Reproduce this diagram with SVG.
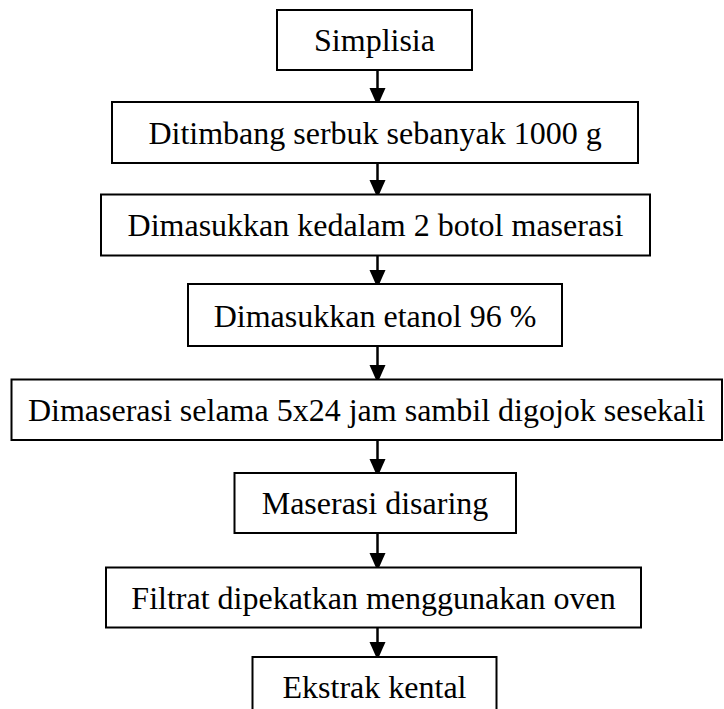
<svg xmlns="http://www.w3.org/2000/svg" width="724" height="709" viewBox="0 0 724 709">
<defs>
<style>
.box{fill:#fff;stroke:#000;stroke-width:2}
.lbl{font-family:"Liberation Serif","Times New Roman",serif;font-size:32px;fill:#000;text-anchor:middle}
.edge{stroke:#000;stroke-width:2.5;fill:none}
</style>
<marker id="ah" markerUnits="userSpaceOnUse" markerWidth="16" markerHeight="18" refX="8" refY="18" orient="auto-start-reverse" viewBox="0 0 16 18">
<path d="M0,0 L16,0 L8,18 Z" fill="#000" transform="rotate(0)"/>
</marker>
</defs>
<rect width="724" height="709" fill="#fff"/>
<g id="connectors">
<line class="edge" x1="377.5" y1="71" x2="377.5" y2="106"/>
<line class="edge" x1="377.5" y1="164" x2="377.5" y2="198"/>
<line class="edge" x1="377.5" y1="256" x2="377.5" y2="288"/>
<line class="edge" x1="377.5" y1="347" x2="377.5" y2="383"/>
<line class="edge" x1="377.5" y1="441" x2="377.5" y2="477"/>
<line class="edge" x1="377.5" y1="534" x2="377.5" y2="571"/>
<line class="edge" x1="377.5" y1="628" x2="377.5" y2="660"/>
<polygon points="369.5,88 385.5,88 377.5,106"/>
<polygon points="369.5,180 385.5,180 377.5,198"/>
<polygon points="369.5,270 385.5,270 377.5,288"/>
<polygon points="369.5,365 385.5,365 377.5,383"/>
<polygon points="369.5,459 385.5,459 377.5,477"/>
<polygon points="369.5,553 385.5,553 377.5,571"/>
<polygon points="369.5,642 385.5,642 377.5,660"/>
</g>
<g id="n1"><rect class="box" x="277" y="10" width="195" height="60"/><text class="lbl" x="374.5" y="51">Simplisia</text></g>
<g id="n2"><rect class="box" x="112" y="102" width="526" height="61"/><text class="lbl" x="375" y="143.5">Ditimbang serbuk sebanyak 1000 g</text></g>
<g id="n3"><rect class="box" x="101" y="194.5" width="549" height="61"/><text class="lbl" x="375.5" y="236">Dimasukkan kedalam 2 botol maserasi</text></g>
<g id="n4"><rect class="box" x="188" y="284" width="374" height="62"/><text class="lbl" x="375" y="326.5">Dimasukkan etanol 96 %</text></g>
<g id="n5"><rect class="box" x="11.5" y="379.5" width="710.5" height="60.5"/><text class="lbl" x="366.5" y="421">Dimaserasi selama 5x24 jam sambil digojok sesekali</text></g>
<g id="n6"><rect class="box" x="234.5" y="473" width="281.5" height="60"/><text class="lbl" x="375" y="514">Maserasi disaring</text></g>
<g id="n7"><rect class="box" x="106" y="567.5" width="535" height="60"/><text class="lbl" x="373.5" y="608.5">Filtrat dipekatkan menggunakan oven</text></g>
<g id="n8"><rect class="box" x="252.5" y="657" width="244" height="62"/><text class="lbl" x="374.5" y="698">Ekstrak kental</text></g>
</svg>
